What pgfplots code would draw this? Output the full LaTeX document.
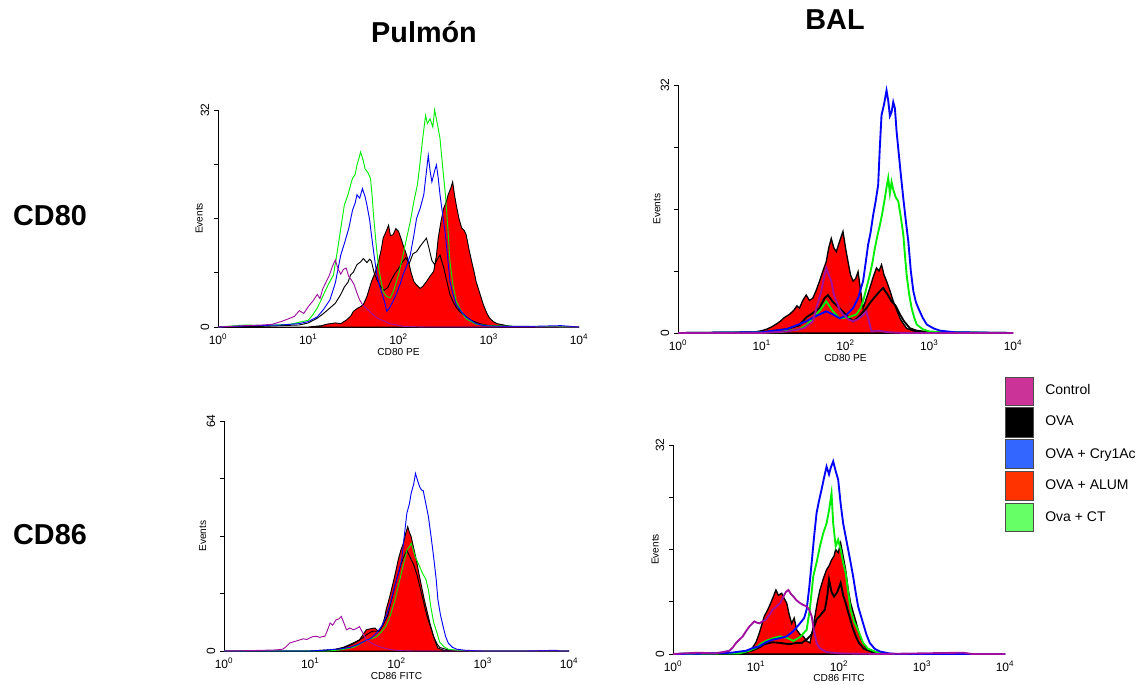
\documentclass[border=0pt]{standalone}
\usepackage{pgfplots}
\pgfplotsset{compat=1.18}
\usepackage{fontspec}
\setmainfont{Liberation Sans}
\definecolor{cmag}{HTML}{A010A0}
\definecolor{cblue}{HTML}{0000FF}
\definecolor{cgreen}{HTML}{00EE00}
\definecolor{cred}{HTML}{FF0000}
\definecolor{lmag}{HTML}{CC3399}
\definecolor{lblue}{HTML}{3366FF}
\definecolor{lred}{HTML}{FF3300}
\definecolor{lgreen}{HTML}{66FF66}
\pgfplotsset{
  flow/.style={
    scale only axis, xmin=0, xmax=4, ymin=0,
    axis x line*=bottom, axis y line*=left,
    axis line style={black, line width=0.7pt, -},
    xtick={0,1,2,3,4},
    xticklabels={10\textsuperscript{0},10\textsuperscript{1},10\textsuperscript{2},10\textsuperscript{3},10\textsuperscript{4}},
    x tick style={draw=none},
    y tick style={black, line width=0.6pt},
    tick align=outside,
    major tick length=3pt,
    tick label style={font=\fontsize{9}{10}\selectfont},
    xticklabel style={yshift=1.5pt},
    yticklabel style={rotate=90, anchor=south},
    label style={font=\fontsize{7.6}{9}\selectfont},
    clip=false,
  },
  thin/.style={line width=0.7pt},
  thick/.style={line width=1.4pt},
}
\begin{document}
\begin{tikzpicture}
\useasboundingbox (0,0) rectangle (856.5pt,-513.75pt);
% titles
\node[font=\fontsize{21.6}{26}\selectfont\bfseries] at (318pt,-24pt) {Pulmón};
\node[font=\fontsize{21.6}{26}\selectfont\bfseries] at (626.25pt,-14.5pt) {BAL};
\node[font=\fontsize{21.6}{26}\selectfont\bfseries] at (37.5pt,-161.6pt) {CD80};
\node[font=\fontsize{21.6}{26}\selectfont\bfseries] at (37.5pt,-401.25pt) {CD86};

% ---------- Panel 1: Pulmon CD80 ----------
\begin{axis}[flow, at={(163.5pt,-245.25pt)}, anchor=south west,
  width=270.75pt, height=162.75pt, ymax=32,
  ytick={0,8,16,24,32}, yticklabels={0,,,,32},
  xlabel={CD80 PE}, ylabel={Events},
  xlabel style={at={(axis description cs:0.5,-0.115)}, anchor=center},
  ylabel style={at={(axis description cs:-0.052,0.5)}, anchor=center}]
\addplot[thin, draw=black, fill=cred] coordinates {
(0,0) (1.0,0) (1.15,0.2) (1.2,0.4) (1.3,0.6) (1.36,0.5) (1.42,1.0) (1.47,1.6) (1.5,2.3) (1.55,2.8) (1.58,3.0) (1.61,3.3) (1.65,4.5) (1.7,6.7) (1.74,8.0) (1.78,9.7) (1.81,11.5) (1.83,13.1) (1.86,14.0) (1.89,15.0) (1.91,13.5) (1.94,13.6) (1.97,14.5) (2.0,14.1) (2.03,13.0) (2.05,12.1) (2.08,11.0) (2.11,9.7) (2.14,8.0) (2.17,6.7) (2.2,6.2) (2.24,5.7) (2.27,6.0) (2.31,6.7) (2.35,7.5) (2.39,8.2) (2.42,10.5) (2.44,13.1) (2.47,15.5) (2.5,17.5) (2.53,18.5) (2.55,19.5) (2.58,20.5) (2.6,21.4) (2.62,19.5) (2.64,18.0) (2.67,16.0) (2.7,14.6) (2.73,14.2) (2.75,13.6) (2.78,11.5) (2.81,9.7) (2.84,8.0) (2.86,6.7) (2.9,5.0) (2.94,3.3) (2.98,2.0) (3.01,1.3) (3.05,0.8) (3.09,0.5) (3.2,0.2) (3.3,0) (4,0)} \closedcycle;
\addplot[thin, black] coordinates {
(0,0) (0.5,0.1) (0.9,0.3) (1.0,0.6) (1.1,1.3) (1.17,2.0) (1.24,2.8) (1.3,3.5) (1.36,4.8) (1.4,5.9) (1.44,6.6) (1.47,7.7) (1.5,8.1) (1.54,9.2) (1.58,9.6) (1.61,10.1) (1.65,9.5) (1.68,10.0) (1.7,9.7) (1.73,8.0) (1.76,7.0) (1.8,6.0) (1.84,5.4) (1.88,5.8) (1.92,6.9) (1.96,7.9) (2.0,8.6) (2.04,9.5) (2.08,10.2) (2.12,9.4) (2.16,10.8) (2.2,11.1) (2.24,11.9) (2.28,12.6) (2.31,13.1) (2.34,11.5) (2.37,9.8) (2.4,9.2) (2.43,10.0) (2.46,10.6) (2.5,8.8) (2.54,6.5) (2.57,4.8) (2.61,3.6) (2.65,2.7) (2.7,2.0) (2.75,1.5) (2.82,0.9) (2.9,0.5) (3.0,0.2) (3.2,0.1) (3.5,0) (4,0)};
\addplot[thin, cgreen] coordinates {
(0,0) (0.3,0.3) (0.5,0.2) (0.8,0.4) (1.0,1.0) (1.05,1.8) (1.1,2.8) (1.14,3.9) (1.17,4.8) (1.22,6.2) (1.28,7.7) (1.32,11.0) (1.36,14.5) (1.4,18.0) (1.44,19.5) (1.47,21.0) (1.49,21.9) (1.52,22.5) (1.54,23.9) (1.56,24.8) (1.58,25.8) (1.61,24.5) (1.63,23.3) (1.66,22.8) (1.69,21.9) (1.71,19.0) (1.72,17.0) (1.75,12.5) (1.78,8.7) (1.81,6.5) (1.83,5.2) (1.87,4.5) (1.91,4.3) (1.95,5.5) (2.0,7.7) (2.04,10.0) (2.09,13.1) (2.13,15.5) (2.17,18.5) (2.21,21.0) (2.24,24.4) (2.27,28.0) (2.3,31.2) (2.32,30.0) (2.35,30.7) (2.38,29.5) (2.4,32.0) (2.43,30.0) (2.46,27.8) (2.49,23.5) (2.52,19.5) (2.55,14.0) (2.57,9.7) (2.6,6.5) (2.64,3.8) (2.7,2.2) (2.75,1.2) (2.86,0.4) (3.0,0.2) (3.3,0.1) (4,0)};
\addplot[thin, cblue] coordinates {
(0,0) (0.4,0.2) (0.7,0.3) (0.9,0.5) (1.0,0.8) (1.1,1.5) (1.17,2.6) (1.24,4.0) (1.3,6.5) (1.36,10.6) (1.4,12.3) (1.45,14.6) (1.49,17.2) (1.52,18.3) (1.54,19.5) (1.57,19.0) (1.6,20.4) (1.63,19.2) (1.65,18.0) (1.68,15.8) (1.7,13.6) (1.73,10.5) (1.76,7.7) (1.79,6.0) (1.82,4.8) (1.85,3.5) (1.87,2.3) (1.9,2.8) (1.94,3.8) (1.98,5.0) (2.02,6.4) (2.05,7.7) (2.09,9.0) (2.13,10.6) (2.17,13.5) (2.2,16.0) (2.24,17.5) (2.28,19.5) (2.31,23.0) (2.33,25.3) (2.35,23.0) (2.37,21.4) (2.4,23.0) (2.42,23.9) (2.44,22.0) (2.46,19.5) (2.49,16.5) (2.52,13.6) (2.55,9.5) (2.57,6.7) (2.6,5.0) (2.64,3.3) (2.7,2.2) (2.75,1.5) (2.8,1.0) (2.86,0.5) (2.95,0.2) (3.1,0.1) (3.5,0.1) (3.8,0.2) (4,0)};
\addplot[thin, cmag] coordinates {
(0,0) (0.3,0.2) (0.5,0.3) (0.6,0.4) (0.7,0.8) (0.78,1.2) (0.85,1.6) (0.9,2.4) (0.95,2.0) (1.0,3.0) (1.05,3.8) (1.1,4.8) (1.13,4.2) (1.16,5.6) (1.2,6.7) (1.23,7.5) (1.27,9.0) (1.3,9.9) (1.33,8.6) (1.36,7.8) (1.39,8.5) (1.42,8.7) (1.45,7.4) (1.48,6.9) (1.51,6.2) (1.54,5.0) (1.57,4.0) (1.6,3.3) (1.64,2.8) (1.68,2.3) (1.72,1.8) (1.78,1.2) (1.84,0.9) (1.9,0.5) (1.98,0.3) (2.05,0.1) (2.3,0) (4,0)};
\end{axis}

% ---------- Panel 2: BAL CD80 ----------
\begin{axis}[flow, at={(508.5pt,-249.75pt)}, anchor=south west,
  width=251.25pt, height=186pt, ymax=32,
  ytick={0,8,16,24,32}, yticklabels={0,,,,32},
  xlabel={CD80 PE}, ylabel={Events},
  xlabel style={at={(axis description cs:0.5,-0.1)}, anchor=center},
  ylabel style={at={(axis description cs:-0.063,0.5)}, anchor=center}]
\addplot[line width=1pt, draw=black, fill=cred] coordinates {
(0,0) (0.9,0.1) (1.0,0.3) (1.06,0.5) (1.12,0.8) (1.18,1.2) (1.22,1.5) (1.27,2.0) (1.33,2.4) (1.38,2.9) (1.42,3.5) (1.45,3.2) (1.49,4.2) (1.53,4.9) (1.57,4.2) (1.61,4.5) (1.65,5.5) (1.69,6.7) (1.73,8.0) (1.77,9.2) (1.8,11.0) (1.83,12.2) (1.86,11.0) (1.89,10.5) (1.92,11.5) (1.95,12.5) (1.97,13.1) (2.0,11.0) (2.03,9.2) (2.06,7.5) (2.09,6.7) (2.12,7.0) (2.15,7.9) (2.18,5.5) (2.21,3.2) (2.25,4.5) (2.29,5.8) (2.33,7.2) (2.37,8.4) (2.4,8.0) (2.43,8.8) (2.46,7.5) (2.49,6.7) (2.53,5.5) (2.57,4.1) (2.61,3.0) (2.65,1.9) (2.69,1.2) (2.73,0.6) (2.8,0.3) (2.9,0.1) (3.0,0) (4,0)} \closedcycle;
\addplot[thick, black] coordinates {
(0,0) (1.0,0.1) (1.3,0.5) (1.45,1.0) (1.53,2.0) (1.6,2.5) (1.69,3.2) (1.75,4.5) (1.79,4.9) (1.85,4.0) (1.93,3.2) (2.0,2.4) (2.09,1.5) (2.15,2.0) (2.2,2.6) (2.25,3.2) (2.3,4.0) (2.37,4.9) (2.42,5.5) (2.45,5.8) (2.5,5.0) (2.55,4.1) (2.6,3.5) (2.65,2.4) (2.7,1.5) (2.77,0.6) (2.85,0.3) (3.0,0.1) (4,0)};
\addplot[thick, cgreen] coordinates {
(0,0) (1.2,0.1) (1.45,0.5) (1.53,1.0) (1.61,1.9) (1.7,3.0) (1.77,4.1) (1.85,2.8) (1.93,1.9) (2.03,2.0) (2.13,2.4) (2.18,3.2) (2.21,4.1) (2.25,5.8) (2.29,7.5) (2.32,9.0) (2.35,10.9) (2.38,12.5) (2.41,13.9) (2.44,15.5) (2.47,17.4) (2.49,18.8) (2.51,20.0) (2.53,18.0) (2.55,19.5) (2.57,18.5) (2.6,17.5) (2.63,17.0) (2.66,15.0) (2.69,12.7) (2.71,10.0) (2.73,7.5) (2.76,5.0) (2.79,3.2) (2.82,2.0) (2.85,1.1) (2.92,0.5) (3.0,0.2) (3.2,0.1) (4,0)};
\addplot[thick, cblue] coordinates {
(0,0) (1.0,0.1) (1.3,0.5) (1.53,1.5) (1.65,2.2) (1.77,2.8) (1.85,2.4) (1.93,1.9) (2.0,2.2) (2.09,3.2) (2.15,4.5) (2.21,6.7) (2.24,9.0) (2.27,11.4) (2.3,13.0) (2.33,15.2) (2.36,17.0) (2.39,19.1) (2.41,24.0) (2.43,28.1) (2.46,29.5) (2.49,31.3) (2.51,30.0) (2.53,28.0) (2.55,28.5) (2.57,29.8) (2.59,29.0) (2.61,26.0) (2.63,23.8) (2.66,20.5) (2.69,17.4) (2.72,14.5) (2.75,11.8) (2.78,8.0) (2.81,5.4) (2.84,4.0) (2.87,3.2) (2.92,2.0) (2.97,1.1) (3.05,0.6) (3.13,0.3) (3.3,0.1) (4,0)};
\addplot[thick, cmag] coordinates {
(0,0) (1.0,0) (1.3,0.2) (1.5,0.6) (1.55,1.0) (1.61,1.5) (1.66,3.5) (1.71,5.4) (1.74,7.0) (1.77,8.4) (1.8,7.5) (1.83,6.7) (1.86,5.0) (1.89,4.1) (1.93,3.0) (1.97,2.4) (2.03,1.8) (2.09,1.5) (2.15,1.8) (2.2,2.2) (2.25,2.8) (2.28,1.5) (2.31,0.2) (2.4,0.3) (2.5,0.1) (2.7,0) (4,0)};
\end{axis}

% ---------- Panel 3: Pulmon CD86 ----------
\begin{axis}[flow, at={(168pt,-488.25pt)}, anchor=south west,
  width=258.75pt, height=172.5pt, ymax=64,
  ytick={0,16,32,48,64}, yticklabels={0,,,,64},
  xlabel={CD86 FITC}, ylabel={Events},
  xlabel style={at={(axis description cs:0.5,-0.11)}, anchor=center},
  ylabel style={at={(axis description cs:-0.062,0.5)}, anchor=center}]
\addplot[thin, draw=black, fill=cred] coordinates {
(0,0) (1.1,0) (1.25,0.2) (1.3,0.5) (1.38,1.0) (1.46,1.8) (1.52,2.5) (1.57,3.1) (1.61,4.5) (1.65,5.9) (1.7,6.2) (1.75,6.4) (1.79,5.5) (1.83,6.8) (1.86,9.0) (1.88,11.5) (1.92,15.0) (1.96,18.9) (1.99,22.0) (2.02,25.4) (2.05,28.0) (2.08,30.0) (2.11,33.0) (2.13,34.6) (2.15,33.0) (2.17,31.8) (2.2,28.5) (2.23,25.4) (2.26,21.5) (2.29,18.0) (2.32,14.5) (2.35,11.5) (2.39,7.5) (2.43,4.1) (2.46,2.0) (2.48,0.8) (2.55,0.2) (2.7,0) (4,0)} \closedcycle;
\addplot[thin, black] coordinates {
(0,0) (1.0,0) (1.2,0.3) (1.3,0.5) (1.4,1.0) (1.5,2.0) (1.57,3.0) (1.65,4.5) (1.72,5.5) (1.8,5.5) (1.85,7.5) (1.9,10.0) (1.94,14.0) (1.98,18.0) (2.02,21.5) (2.05,24.0) (2.08,26.0) (2.12,28.0) (2.14,27.0) (2.16,26.0) (2.2,24.0) (2.24,21.0) (2.28,17.0) (2.32,13.0) (2.35,10.0) (2.39,7.0) (2.43,4.0) (2.47,2.0) (2.5,1.0) (2.6,0.3) (2.8,0) (4,0)};
\addplot[thin, cgreen] coordinates {
(0,0) (1.2,0) (1.35,0.3) (1.5,1.0) (1.58,2.0) (1.65,3.0) (1.72,3.5) (1.77,4.0) (1.83,5.5) (1.88,7.0) (1.93,10.0) (1.98,14.0) (2.02,18.0) (2.06,22.0) (2.09,25.0) (2.12,28.0) (2.15,29.0) (2.17,30.0) (2.19,28.5) (2.22,26.0) (2.26,24.0) (2.3,21.7) (2.34,20.0) (2.37,17.0) (2.4,12.0) (2.43,8.0) (2.47,5.0) (2.5,2.5) (2.55,1.2) (2.6,0.5) (2.7,0.2) (2.9,0) (4,0)};
\addplot[thin, cblue] coordinates {
(0,0) (1.0,0) (1.2,0.3) (1.35,0.6) (1.46,1.0) (1.55,1.8) (1.61,2.5) (1.7,3.5) (1.77,5.0) (1.83,7.0) (1.88,9.6) (1.93,13.5) (1.98,18.0) (2.02,21.5) (2.06,25.4) (2.09,32.0) (2.12,38.3) (2.15,41.0) (2.17,43.9) (2.2,46.5) (2.22,49.4) (2.25,47.0) (2.27,45.6) (2.29,44.8) (2.31,44.6) (2.34,41.0) (2.37,37.4) (2.4,32.0) (2.43,26.3) (2.46,20.0) (2.48,14.3) (2.51,10.0) (2.54,6.9) (2.57,4.0) (2.6,2.2) (2.65,1.0) (2.7,0.5) (2.8,0.2) (3.0,0) (3.5,0) (3.85,0.2) (3.9,0) (4,0)};
\addplot[thin, cmag] coordinates {
(0,0) (0.3,0.1) (0.6,0.3) (0.68,0.5) (0.72,1.2) (0.76,2.2) (0.8,2.5) (0.84,2.8) (0.88,3.1) (0.92,3.4) (0.96,3.2) (0.99,3.6) (1.03,4.0) (1.07,4.1) (1.11,3.8) (1.14,4.0) (1.17,4.1) (1.2,5.8) (1.23,7.8) (1.26,7.2) (1.3,8.7) (1.33,8.9) (1.36,9.6) (1.39,7.8) (1.42,5.9) (1.46,6.4) (1.5,5.9) (1.54,6.3) (1.57,6.8) (1.61,5.0) (1.65,3.1) (1.71,2.2) (1.77,1.5) (1.83,1.0) (1.88,0.7) (1.95,0.3) (2.05,0.1) (2.2,0) (4,0)};
\end{axis}

% ---------- Panel 4: BAL CD86 ----------
\begin{axis}[flow, at={(504.75pt,-490.5pt)}, anchor=south west,
  width=249pt, height=156.75pt, ymax=32,
  ytick={0,8,16,24,32}, yticklabels={0,,,,32},
  xlabel={CD86 FITC}, ylabel={Events},
  xlabel style={at={(axis description cs:0.5,-0.115)}, anchor=center},
  ylabel style={at={(axis description cs:-0.054,0.5)}, anchor=center}]
\addplot[line width=1pt, draw=black, fill=cred] coordinates {
(0,0) (0.8,0) (0.9,0.3) (0.95,0.8) (1.0,1.8) (1.04,3.2) (1.07,4.5) (1.1,5.8) (1.13,6.5) (1.16,7.3) (1.2,8.5) (1.24,9.8) (1.27,9.0) (1.31,9.3) (1.34,8.5) (1.37,7.8) (1.4,6.0) (1.43,4.7) (1.46,5.5) (1.49,3.7) (1.53,3.0) (1.57,2.7) (1.61,2.0) (1.65,1.7) (1.68,3.5) (1.71,5.8) (1.74,8.0) (1.77,9.8) (1.81,11.5) (1.85,12.9) (1.88,13.5) (1.91,14.4) (1.94,15.0) (1.96,16.0) (1.99,15.5) (2.02,17.0) (2.05,15.0) (2.08,12.9) (2.11,10.0) (2.14,7.8) (2.18,6.0) (2.21,4.7) (2.24,3.2) (2.27,2.2) (2.31,1.2) (2.35,0.7) (2.45,0.2) (2.6,0) (4,0)} \closedcycle;
\addplot[thick, black] coordinates {
(0,0) (0.8,0.1) (0.95,0.5) (1.04,1.0) (1.1,1.5) (1.2,1.8) (1.29,1.7) (1.4,1.5) (1.49,1.7) (1.55,1.7) (1.61,2.2) (1.67,3.0) (1.73,5.3) (1.78,6.0) (1.83,6.8) (1.86,9.0) (1.88,11.4) (1.91,9.5) (1.94,8.8) (1.98,9.5) (2.02,10.9) (2.05,9.0) (2.08,7.8) (2.12,6.0) (2.16,4.2) (2.2,2.8) (2.24,1.7) (2.3,0.8) (2.4,0.3) (2.6,0) (4,0)};
\addplot[thick, cgreen] coordinates {
(0,0) (0.8,0.1) (0.92,0.5) (1.0,1.0) (1.06,1.6) (1.12,2.0) (1.2,2.4) (1.29,2.7) (1.37,2.5) (1.45,2.0) (1.53,2.6) (1.61,3.7) (1.65,7.0) (1.69,11.9) (1.73,14.0) (1.77,16.5) (1.81,18.5) (1.85,20.0) (1.88,22.0) (1.91,24.6) (1.93,20.0) (1.96,16.5) (1.99,17.5) (2.02,16.0) (2.05,14.0) (2.08,12.4) (2.11,9.5) (2.14,6.8) (2.18,5.0) (2.21,4.2) (2.25,3.0) (2.29,1.7) (2.35,0.8) (2.45,0.3) (2.6,0) (4,0)};
\addplot[thick, cblue] coordinates {
(0,0) (0.5,0.1) (0.7,0.2) (0.88,0.5) (0.96,0.9) (1.04,1.2) (1.12,1.8) (1.2,2.2) (1.28,2.4) (1.37,2.7) (1.45,3.5) (1.53,4.7) (1.58,5.5) (1.61,6.8) (1.64,10.0) (1.67,13.9) (1.7,18.0) (1.73,21.6) (1.76,23.5) (1.79,25.2) (1.82,27.0) (1.85,28.7) (1.88,27.5) (1.9,28.5) (1.93,29.5) (1.96,28.0) (1.99,26.7) (2.02,23.0) (2.05,20.0) (2.08,18.0) (2.11,16.0) (2.14,14.0) (2.17,11.9) (2.2,9.5) (2.23,7.3) (2.26,6.0) (2.29,4.7) (2.33,3.0) (2.37,1.7) (2.43,0.8) (2.49,0.4) (2.6,0.1) (2.7,0) (4,0)};
\addplot[thick, cmag] coordinates {
(0,0) (0.3,0.2) (0.5,0.1) (0.6,0.3) (0.68,0.5) (0.72,1.0) (0.76,1.7) (0.8,2.2) (0.84,2.7) (0.88,3.5) (0.92,4.2) (0.95,4.6) (0.98,5.0) (1.01,4.8) (1.04,4.7) (1.08,5.0) (1.12,5.3) (1.16,6.0) (1.2,6.8) (1.24,7.2) (1.29,7.8) (1.33,8.8) (1.36,9.5) (1.39,9.8) (1.42,9.2) (1.45,8.8) (1.49,8.2) (1.53,7.8) (1.57,7.5) (1.61,7.3) (1.64,6.8) (1.67,5.8) (1.7,3.5) (1.73,1.7) (1.76,1.0) (1.79,0.7) (1.85,0.3) (2.0,0.1) (2.5,0) (3.5,0.2) (3.6,0) (4,0)};
\end{axis}

% ---------- legend ----------
\foreach \c/\t/\ya/\yb/\yc in {lmag/Control/377/405/389.5, black/OVA/407/437/420.5, lblue/OVA + Cry1Ac/439/468/455, lred/OVA + ALUM/471/500/484.5, lgreen/Ova + CT/503/531/517}{
  \draw[draw=black!70, line width=0.6pt, fill=\c] (753.75pt,-\ya*0.75pt) rectangle (774.75pt,-\yb*0.75pt);
  \node[anchor=west, font=\fontsize{10.5}{12}\selectfont, inner sep=0pt] at (783.75pt,-\yc*0.75pt) {\t};
}
\end{tikzpicture}
\end{document}
